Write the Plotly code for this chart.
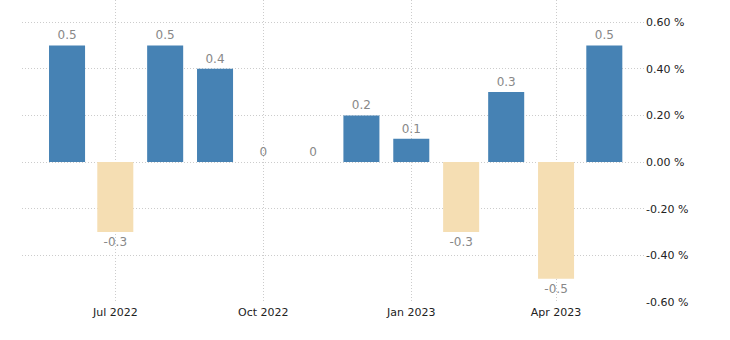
import plotly.graph_objects as go

months = ["2022-06-01", "2022-07-01", "2022-08-01", "2022-09-01", "2022-10-01", "2022-11-01",
          "2022-12-01", "2023-01-01", "2023-02-01", "2023-03-01", "2023-04-01", "2023-05-01"]
values = [0.5, -0.3, 0.5, 0.4, 0, 0, 0.2, 0.1, -0.3, 0.3, -0.5, 0.5]
tick_dates = ["2022-07-01", "2022-10-01", "2023-01-01", "2023-04-01"]
tick_labels = ["Jul 2022", "Oct 2022", "Jan 2023", "Apr 2023"]
y_ticks = [-0.6, -0.4, -0.2, 0.0, 0.2, 0.4, 0.6]

colors = ["#4682B4" if v >= 0 else "#F5DEB3" for v in values]
labels = [("%g" % v) for v in values]

fig = go.Figure(go.Bar(
    x=months, y=values,
    marker=dict(color=colors, line=dict(width=0)),
    width=22.4 * 86400000,
    text=labels, textposition="outside", cliponaxis=False,
    textfont=dict(family="DejaVu Sans", size=12, color="#888888"),
    hoverinfo="skip",
))

fig.update_layout(
    width=730, height=340,
    margin=dict(l=22, r=85, t=0, b=38),
    paper_bgcolor="white", plot_bgcolor="white",
    showlegend=False,
    xaxis=dict(type="date", range=["2022-05-04", "2023-05-26 07:00"],
               tickvals=tick_dates, ticktext=tick_labels,
               showgrid=True, gridcolor="#cccccc", griddash="1px,2px", gridwidth=1,
               zeroline=False, showline=False, ticks="", ticklabelstandoff=2,
               tickfont=dict(family="DejaVu Sans", size=11, color="#222222")),
    yaxis=dict(side="right", range=[-0.6, 0.695], tickvals=y_ticks,
               ticktext=["%.2f %%" % v for v in y_ticks],
               showgrid=True, gridcolor="#cccccc", griddash="1px,2px", gridwidth=1,
               zeroline=False, showline=False, ticks="", ticklabelstandoff=0,
               tickfont=dict(family="DejaVu Sans", size=11, color="#222222")),
)

fig.write_html("out.html")
